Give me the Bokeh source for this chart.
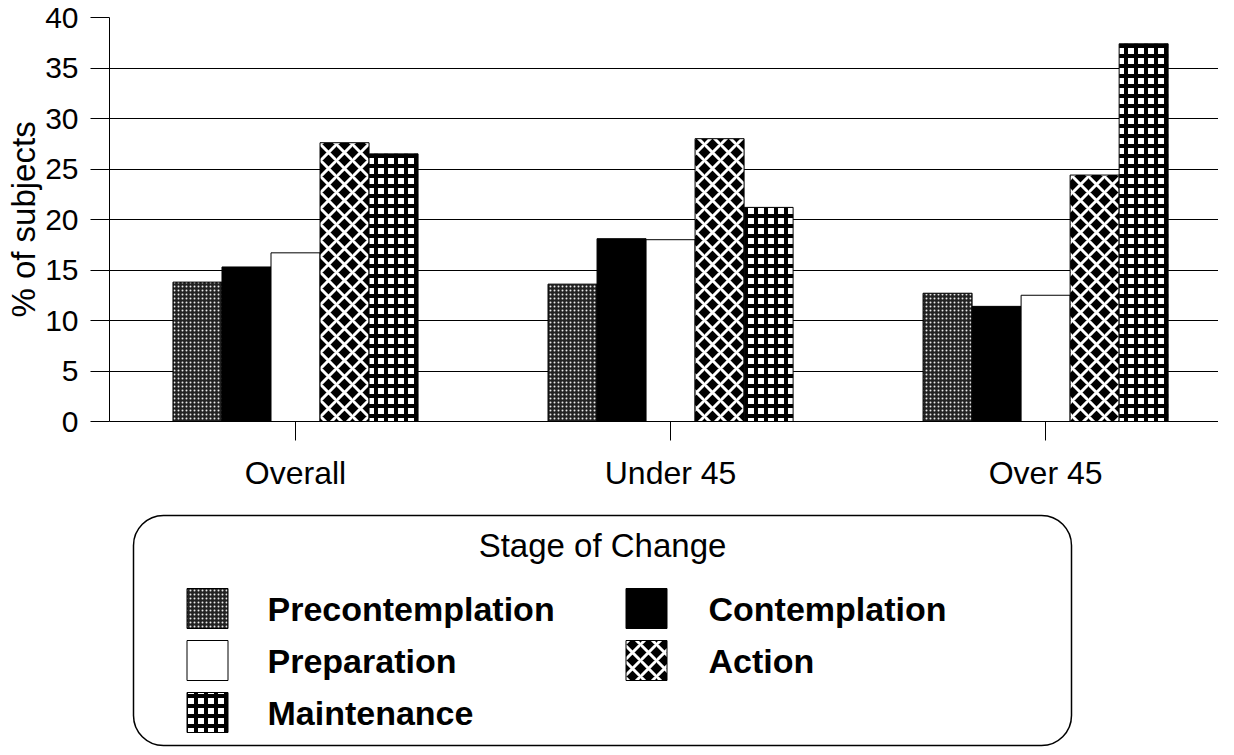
from bokeh.plotting import figure
from bokeh.models import ColumnDataSource, Range1d, FixedTicker, BoxAnnotation
from bokeh.layouts import column
from bokeh.core.properties import value
from bokeh.embed import file_html
from bokeh.resources import INLINE

# ---------------- data ----------------
categories = ["Overall", "Under 45", "Over 45"]
stages = ["Precontemplation", "Contemplation", "Preparation", "Action", "Maintenance"]
precontemplation = [13.8, 13.6, 12.7]
contemplation = [15.3, 18.1, 11.4]
preparation = [16.7, 18.0, 12.5]
action = [27.6, 28.0, 24.4]
maintenance = [26.5, 21.2, 37.4]
y_ticks = [0, 5, 10, 15, 20, 25, 30, 35, 40]
y_label = "% of subjects"
legend_title = "Stage of Change"

series = [precontemplation, contemplation, preparation, action, maintenance]

# ---------------- styles ----------------
FONT = "Liberation Sans"
styles = {
    "Precontemplation": dict(fill_color="#222222", hatch_pattern="dot", hatch_color="white",
                             hatch_scale=4, hatch_weight=1.6, hatch_alpha=0.9),
    "Contemplation": dict(fill_color="black"),
    "Preparation": dict(fill_color="white"),
    "Action": dict(fill_color="black", hatch_pattern="diagonal_cross", hatch_color="white",
                   hatch_scale=16, hatch_weight=3),
    "Maintenance": dict(fill_color="white", hatch_pattern="cross", hatch_color="black",
                        hatch_scale=10, hatch_weight=4),
}

# ---------------- main chart ----------------
p = figure(x_range=Range1d(-0.496, 2.461), y_range=Range1d(0, 40),
           width=1218, height=500,
           output_backend="svg", toolbar_location=None,
           min_border_left=109, min_border_right=0, min_border_top=17, min_border_bottom=79)
p.outline_line_color = None
p.background_fill_color = "white"

cat_index = list(range(len(categories)))
bar_w = 0.1307
for i, (s, vals) in enumerate(zip(stages, series)):
    src = ColumnDataSource(dict(x=[c + (i - 2) * bar_w for c in cat_index], top=vals))
    p.vbar(x="x", top="top", bottom=0, width=bar_w, source=src,
           line_color="black", line_width=1, **styles[s])

p.xgrid.grid_line_color = None
p.ygrid.ticker = FixedTicker(ticks=y_ticks)
p.ygrid.grid_line_color = "black"
p.ygrid.grid_line_width = 1

p.yaxis.ticker = FixedTicker(ticks=y_ticks)
p.yaxis.axis_label = y_label
p.yaxis.axis_label_text_font = FONT
p.yaxis.axis_label_text_font_size = "33px"
p.yaxis.axis_label_text_font_style = "normal"
p.yaxis.axis_label_text_color = "black"
p.yaxis.axis_label_standoff = 0
p.yaxis.major_label_text_font = FONT
p.yaxis.major_label_text_font_size = "30px"
p.yaxis.major_label_text_color = "black"
p.yaxis.major_label_standoff = 12
p.yaxis.major_tick_out = 19
p.yaxis.major_tick_in = 0
p.yaxis.minor_tick_out = 0
p.yaxis.minor_tick_in = 0
p.yaxis.axis_line_color = "black"
p.yaxis.major_tick_line_color = "black"

p.xaxis.ticker = FixedTicker(ticks=cat_index)
p.xaxis.major_label_overrides = {i: c for i, c in enumerate(categories)}
p.xaxis.major_label_text_font = FONT
p.xaxis.major_label_text_font_size = "32px"
p.xaxis.major_label_text_color = "black"
p.xaxis.major_label_standoff = 14
p.xaxis.major_tick_out = 19
p.xaxis.major_tick_in = 0
p.xaxis.minor_tick_out = 0
p.xaxis.minor_tick_in = 0
p.xaxis.axis_line_color = "black"
p.xaxis.major_tick_line_color = "black"

# ---------------- legend panel ----------------
lg = figure(width=1218, height=247, x_range=Range1d(109, 1218), y_range=Range1d(247, 0),
            output_backend="svg", toolbar_location=None,
            x_axis_type=None, y_axis_type=None,
            min_border_left=109, min_border_right=0, min_border_top=0, min_border_bottom=0)
lg.outline_line_color = None
lg.grid.visible = False

box = BoxAnnotation(left=133, right=1071, top=15, bottom=245, fill_alpha=0,
                    line_color="black", line_alpha=1, line_width=1.5, border_radius=30)
lg.add_layout(box)

lg.text(x=[602], y=[45], text=[legend_title], text_align="center", text_baseline="middle",
        text_font=value(FONT), text_font_size="33px", text_color="black")

col_swatch = [207, 646]
col_text = [267, 708]
row_y0, row_dy = 108, 52
for i, s in enumerate(stages):
    c, r = i % 2, i // 2
    yy = row_y0 + r * row_dy
    lg.rect(x=[col_swatch[c]], y=[yy], width=41, height=40, line_color="black", line_width=1,
            **styles[s])
    lg.text(x=[col_text[c]], y=[yy], text=[s], text_align="left", text_baseline="middle",
            text_font=value(FONT), text_font_size="34px", text_font_style="bold",
            text_color="black")

layout = column(p, lg, spacing=0)
open("out.html", "w").write(file_html(layout, INLINE))
